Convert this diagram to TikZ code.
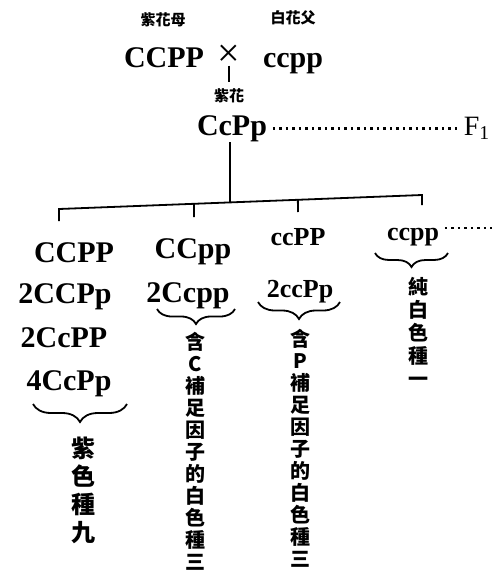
\documentclass[tikz,border=0pt]{standalone}
\usepackage{fontspec}
\setmainfont{Liberation Serif}
\newfontfamily\cjk{Noto Sans CJK TC}
\usetikzlibrary{decorations.pathreplacing,calc}
\begin{document}
\begin{tikzpicture}[x=1pt,y=-1pt,line width=1.8pt,
  geno/.style={font=\fontsize{30}{30}\selectfont\bfseries,inner sep=0pt,anchor=base},
  genos/.style={font=\fontsize{26}{26}\selectfont\bfseries,inner sep=0pt,anchor=base},
  small/.style={font=\cjk\bfseries\fontsize{15}{15}\selectfont,inner sep=0pt},
  vtext/.style={font=\cjk\bfseries\fontsize{20}{22}\selectfont,align=center,inner sep=0pt,anchor=north},
  brc/.style={decorate,decoration={brace,mirror,amplitude=#1}},
  dots/.style={line width=2.6pt,dash pattern=on 2.5pt off 4pt}
]
\useasboundingbox (0,0) rectangle (492,574);
% parents
\node[small] (mlab) at (163,20) {紫花母};
\node[small] (flab) at (293,18) {白花父};
\node[geno] (p1) at (164,67) {CCPP};
\node[font=\fontsize{40}{40}\selectfont,inner sep=0pt] (cross) at (229,56) {×};
\node[geno] (p2) at (293,67) {ccpp};
% F1
\node[small] (f1lab) at (229,96) {紫花};
\node[geno] (f1) at (232,135) {CcPp};
\node[font=\fontsize{28}{28}\selectfont,inner sep=0pt,anchor=base west] (F1) at (463,135) {F\textsubscript{1}};
\draw[shorten >=6pt,shorten <=-2pt] (cross.south) -- (cross.south |- f1lab.north);
\draw[dots] ($(f1.east)+(5,0)$) -- ($(F1.west |- f1.east)+(-2,0)$);
% bus
\coordinate (b1) at (59,209);
\coordinate (b4) at (422,195);
\coordinate (hub) at ($(b1)!0.471!(b4)$);
\coordinate (b2) at ($(b1)!0.372!(b4)$);
\coordinate (b3) at ($(b1)!0.658!(b4)$);
\coordinate (t1) at (59,221);
\coordinate (t4) at (422,205);
\coordinate (t2) at (194,217);
\coordinate (t3) at (298,212);
\draw (hub |- f1.south) -- (hub);
\draw (t1) -- (b1) -- (b4) -- (t4);
\draw (b2) -- (t2);
\draw (b3) -- (t3);
% column 1
\node[geno] (a1) at (74,262) {CCPP};
\node[geno] (a2) at (65,303) {2CCPp};
\node[geno] (a3) at (64,347) {2CcPP};
\node[geno] (a4) at (69,390) {4CcPp};
\coordinate (a4l) at (33,404);
\coordinate (a4r) at (127,404);
\draw[brc=18pt] (a4l) -- (a4r);
\node[vtext,font=\cjk\bfseries\fontsize{24}{28}\selectfont] (atext) at (83,436) {紫\\色\\種\\九};
% column 2
\node[geno] (c1) at (193,258) {CCpp};
\node[geno] (c2) at (188,302) {2Ccpp};
\coordinate (c2l) at (157,309);
\coordinate (c2r) at (235,309);
\draw[brc=15pt] (c2l) -- (c2r);
\node[vtext] (ctext) at (195,331) {含\\C\\補\\足\\因\\子\\的\\白\\色\\種\\三};
% column 3
\node[genos] (d1) at (298,245) {ccPP};
\node[genos] (d2) at (300,297) {2ccPp};
\coordinate (d2l) at (258,302);
\coordinate (d2r) at (340,302);
\draw[brc=17pt] (d2l) -- (d2r);
\node[vtext] (dtext) at (300,328) {含\\P\\補\\足\\因\\子\\的\\白\\色\\種\\三};
% column 4
\node[genos] (e1) at (413,240) {ccpp};
\coordinate (cont) at (492,228);
\draw[dots] ($(e1.east |- cont)+(5,0)$) -- (cont);
\coordinate (e1l) at (375,253);
\coordinate (e1r) at (448,253);
\draw[brc=14pt] (e1l) -- (e1r);
\node[vtext,font=\cjk\bfseries\fontsize{20}{23}\selectfont] (etext) at (418,276) {純\\白\\色\\種\\一};
\end{tikzpicture}
\end{document}
